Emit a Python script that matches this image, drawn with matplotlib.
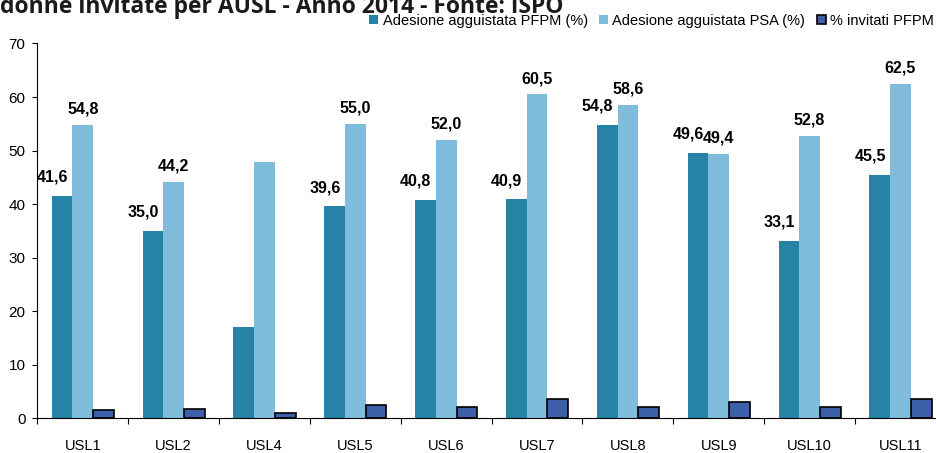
import numpy as np
import matplotlib
matplotlib.use('Agg')
import matplotlib.pyplot as plt

# dati
usl = ['USL1', 'USL2', 'USL4', 'USL5', 'USL6', 'USL7', 'USL8', 'USL9', 'USL10', 'USL11']
pfpm = [41.6, 35.0, 17.1, 39.6, 40.8, 40.9, 54.8, 49.6, 33.1, 45.5]
psa = [54.8, 44.2, 47.8, 55.0, 52.0, 60.5, 58.6, 49.4, 52.8, 62.5]
invitati = [1.6, 1.8, 0.9, 2.5, 2.1, 3.6, 2.1, 3.1, 2.1, 3.6]
# USL4 senza etichette nel grafico originale
show_label = [True, True, False, True, True, True, True, True, True, True]

plt.rcParams['font.family'] = ['Liberation Sans', 'DejaVu Sans']

fig = plt.figure(figsize=(9.37, 4.53), dpi=100)
ax = fig.add_axes([37.3 / 937, (453 - 418.3) / 453, 908.6 / 937, (418.3 - 43.5) / 453])

x = np.arange(len(usl))
w = 0.228
b1 = ax.bar(x - w, pfpm, w, color='#2683A6', label='Adesione agguistata PFPM (%)')
b2 = ax.bar(x, psa, w, color='#80BCDC', label='Adesione agguistata PSA (%)')
b3 = ax.bar(x + w, invitati, w, color='#3D5FAA', edgecolor='black', linewidth=1.2,
            label='% invitati PFPM')

for i in range(len(usl)):
    if not show_label[i]:
        continue
    ax.annotate(f'{pfpm[i]:.1f}'.replace('.', ','), (x[i] - w, pfpm[i]),
                xytext=(-7, 8), textcoords='offset points', ha='center', va='bottom',
                fontsize=11.5, fontweight='bold')
    ax.annotate(f'{psa[i]:.1f}'.replace('.', ','), (x[i], psa[i]),
                xytext=(0, 6), textcoords='offset points', ha='center', va='bottom',
                fontsize=11.5, fontweight='bold')

ax.set_xlim(-0.5, len(usl) - 0.5)
ax.set_ylim(0, 70)
ax.set_yticks(range(0, 71, 10))
ax.tick_params(axis='y', labelsize=11, length=3.5, pad=5)

# tacche tra le categorie, etichette al centro
ax.set_xticks(np.arange(-0.5, len(usl), 1))
ax.set_xticklabels([])
ax.set_xticks(x, minor=True)
ax.set_xticklabels(usl, minor=True)
ax.tick_params(axis='x', which='major', length=4, direction='out')
ax.tick_params(axis='x', which='minor', length=0, pad=15, labelsize=10.5)

for s in ['top', 'right']:
    ax.spines[s].set_visible(False)

fig.legend(handles=[b1, b2, b3], loc='center right', bbox_to_anchor=(934 / 937, 1 - 21 / 453),
           ncol=3, frameon=False, fontsize=10.5, handlelength=0.6, handleheight=0.6,
           handletextpad=0.3, columnspacing=0.8, borderaxespad=0, borderpad=0)

fig.text(0, 1 - 13 / 453, 'donne invitate per AUSL - Anno 2014 - Fonte: ISPO',
         fontsize=16.5, fontweight='bold', family=['Open Sans', 'DejaVu Sans'],
         ha='left', va='baseline', color='#1a1a1a')

fig.savefig('out.png', dpi=100)
